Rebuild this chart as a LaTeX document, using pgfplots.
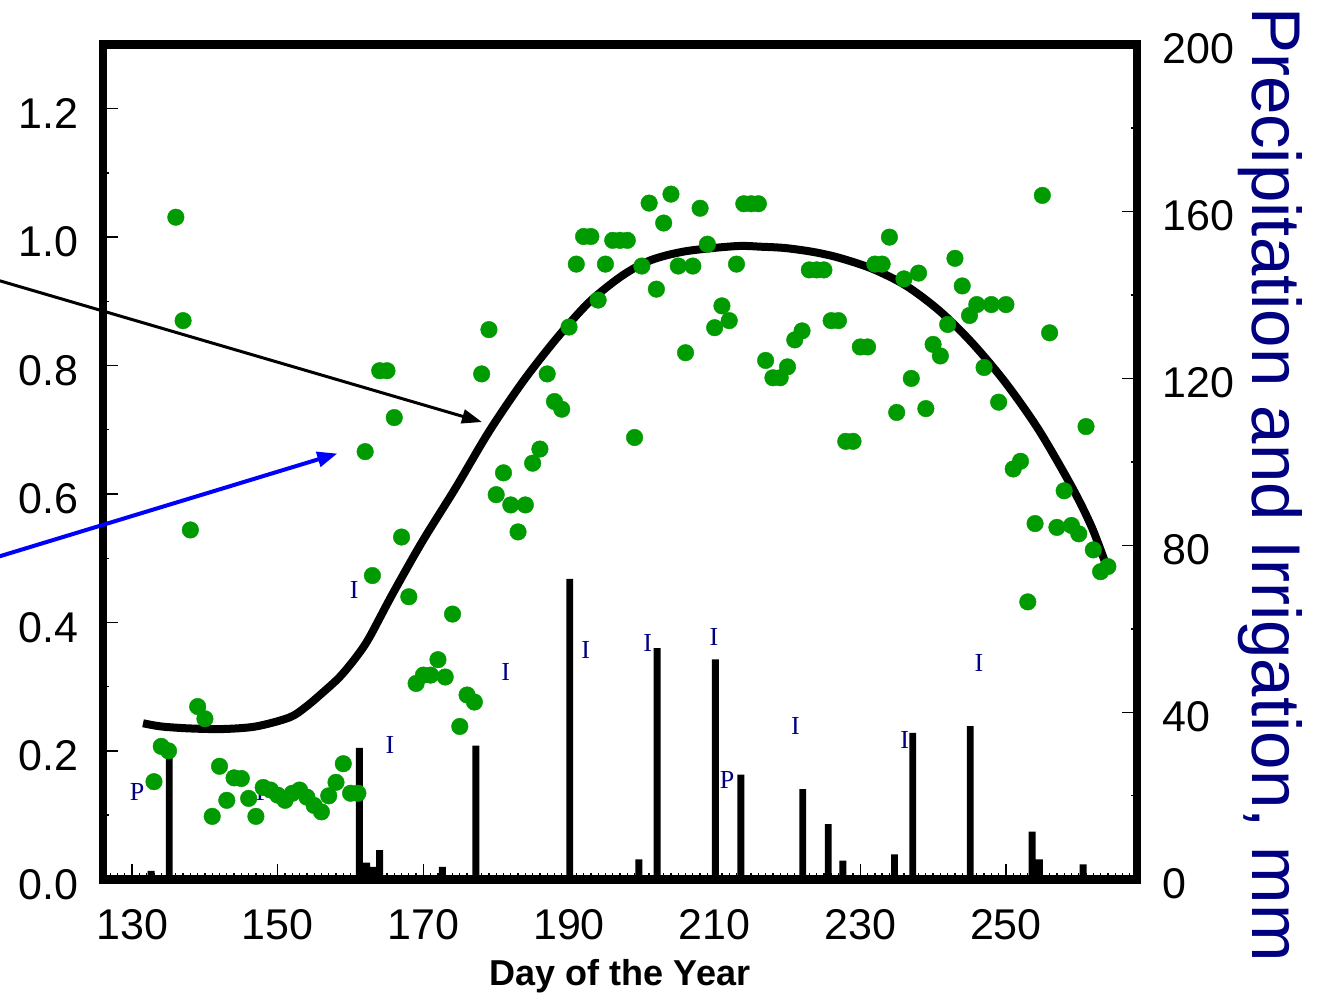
\documentclass[border=0pt]{standalone}
\usepackage{fontspec}
\setmainfont{Liberation Sans}
\newfontfamily\serifP{Liberation Serif}
\usepackage{pgfplots}
\pgfplotsset{compat=1.18}
\usetikzlibrary{arrows.meta}
\definecolor{dotgreen}{RGB}{0,155,0}
\definecolor{labnavy}{RGB}{0,0,128}
\tikzset{pilab/.style={font=\serifP\fontsize{26}{26}\selectfont, text=labnavy, inner sep=0pt, anchor=center}}
\begin{document}
\begin{tikzpicture}
\pgfplotsset{
  common/.style={
    scale only axis, width=1034pt, height=834.8pt,
    xmin=126, xmax=268,
    tick align=inside,
    major tick length=15pt, minor tick length=6.5pt,
    tick style={black, line width=1.3pt},
    /pgf/number format/assume math mode=true,
    ticklabel style={font=\fontsize{43}{43}\selectfont},
    axis line style={line width=8.5pt, line cap=rect},
  },
}
% ---- right axis: precipitation and irrigation (mm) ----
\begin{axis}[common,
  axis x line=none, axis y line*=right,
  ymin=0, ymax=200,
  ytick={0,40,80,120,160,200}, minor ytick={20,60,100,140,180},
  yticklabel style={xshift=22pt, yshift=-4pt},
  clip=false]
\addplot[ybar, bar width=0.95, fill=black, draw=none] coordinates {
 (132.6,2) (135.1,29.3) (161.2,31.5) (162.2,4) (163.1,3) (164.0,7)
 (172.6,3) (177.2,32) (190.1,72) (199.6,4.8) (202.1,55.4) (210.1,52.7)
 (213.6,25.1) (222.1,21.6) (225.6,13.2) (227.6,4.5) (234.7,6) (237.2,35.1)
 (245.1,36.7) (253.6,11.4) (254.6,4.8) (260.6,3.6)
};
\end{axis}
% ---- left axis: crop coefficient ----
\begin{axis}[common,
  ymin=0, ymax=1.3,
  xtick={130,150,170,190,210,230,250}, minor xtick={127,128,...,267},
  ytick={0,0.2,0.4,0.6,0.8,1.0,1.2}, minor ytick={0.1,0.3,0.5,0.7,0.9,1.1},
  xtick pos=bottom, ytick pos=left,
  yticklabel style={/pgf/number format/fixed, /pgf/number format/fixed zerofill,
    /pgf/number format/precision=1, xshift=-21pt, yshift=-5pt},
  xticklabel style={yshift=-27pt},
  clip=false]
\addplot[line width=8pt, black, smooth] coordinates {
 (131.5,0.243) (134,0.238) (137.8,0.235) (142.4,0.234) (147,0.238) (151.6,0.252)
 (153.8,0.268) (156.1,0.290) (158.5,0.315) (160.7,0.345) (162.5,0.375) (165.7,0.443)
 (169.85,0.526) (174.4,0.609) (179,0.697) (183.6,0.774) (188.2,0.841) (192.7,0.898)
 (197.3,0.940) (201.2,0.964) (206,0.978) (212.9,0.986) (216.5,0.985) (219.7,0.983)
 (223.5,0.977) (227.05,0.968) (231.6,0.951) (236.2,0.925) (240.8,0.886) (245.3,0.836)
 (249.9,0.774) (254.5,0.700) (259.1,0.610) (261.8,0.548) (263.9,0.485)
};
\addplot[only marks, mark=*, mark size=8.3pt, color=dotgreen, mark options={draw=none, fill=dotgreen}] coordinates {
 (133,0.152) (134,0.207) (135,0.200) (136,1.031) (137,0.870) (138,0.544) (139,0.269)
 (140,0.250) (141,0.098) (142,0.176) (143,0.123) (144,0.158) (145,0.157) (146,0.126)
 (147,0.098) (148,0.143) (149,0.139) (150,0.131) (151,0.123) (152,0.134) (153,0.139)
 (154,0.128) (155,0.115) (156,0.105) (157,0.130) (158,0.151) (159,0.180) (160,0.134)
 (161,0.134) (162,0.666) (163,0.473) (164,0.792) (165,0.792) (166,0.719) (167,0.533)
 (168,0.440) (169,0.305) (170,0.318) (171,0.318) (172,0.342) (173,0.315) (174,0.413)
 (175,0.238) (176,0.287) (177,0.276) (178,0.787) (179,0.856) (180,0.599) (181,0.633)
 (182,0.583) (183,0.541) (184,0.583) (185,0.648) (186,0.670) (187,0.787) (188,0.744)
 (189,0.732) (190,0.860) (191,0.958) (192,1.001) (193,1.001) (194,0.902) (195,0.958)
 (196,0.995) (197,0.995) (198,0.995) (199,0.688) (200,0.955) (201,1.053) (202,0.919)
 (203,1.022) (204,1.067) (205,0.955) (206,0.820) (207,0.955) (208,1.045) (209,0.989)
 (210,0.859) (211,0.893) (212,0.870) (213,0.958) (214,1.052) (215,1.052) (216,1.052)
 (217,0.808) (218,0.781) (219,0.781) (220,0.798) (221,0.840) (222,0.854) (223,0.949)
 (224,0.949) (225,0.949) (226,0.870) (227,0.870) (228,0.682) (229,0.682) (230,0.829)
 (231,0.829) (232,0.958) (233,0.958) (234,1.000) (235,0.727) (236,0.935) (237,0.780)
 (238,0.944) (239,0.733) (240,0.833) (241,0.815) (242,0.864) (243,0.967) (244,0.924)
 (245,0.878) (246,0.895) (247,0.797) (248,0.895) (249,0.743) (250,0.895) (251,0.639)
 (252,0.651) (253,0.432) (254,0.554) (255,1.065) (256,0.851) (257,0.548) (258,0.605)
 (259,0.551) (260,0.538) (261,0.705) (262,0.513) (263,0.479) (264,0.487)
};
% P = precipitation, I = irrigation (positions in mm x 0.0065)
\node[pilab] at (axis cs:130.7,0.1352) {P};
\node[pilab] at (axis cs:148.0,0.1352) {P};
\node[pilab] at (axis cs:160.5,0.4505) {I};
\node[pilab] at (axis cs:165.4,0.2087) {I};
\node[pilab] at (axis cs:181.3,0.3231) {I};
\node[pilab] at (axis cs:192.3,0.3575) {I};
\node[pilab] at (axis cs:200.8,0.3679) {I};
\node[pilab] at (axis cs:209.9,0.3770) {I};
\node[pilab] at (axis cs:211.7,0.1541) {P};
\node[pilab] at (axis cs:221.1,0.2392) {I};
\node[pilab] at (axis cs:236.1,0.2165) {I};
\node[pilab] at (axis cs:246.3,0.3361) {I};
\draw[black, line width=3pt, -{Triangle[length=20pt,width=14pt]}] (axis cs:109,0.9414) -- (axis cs:178.04,0.7121);
\draw[blue, line width=4pt, -{Triangle[length=20pt,width=15pt]}] (axis cs:109,0.4933) -- (axis cs:158.18,0.663);
\end{axis}
\node[anchor=base, font=\bfseries\fontsize{36}{36}\selectfont] at (517pt,-106pt) {Day of the Year};
\node[rotate=-90, anchor=base, text=labnavy, font=\fontsize{69}{69}\selectfont] at (1149pt,394.8pt) {Precipitation and Irrigation, mm};
\pgfresetboundingbox
\path[use as bounding box] (-103pt,-113.7pt) rectangle (1214pt,879.3pt);
\end{tikzpicture}
\end{document}
